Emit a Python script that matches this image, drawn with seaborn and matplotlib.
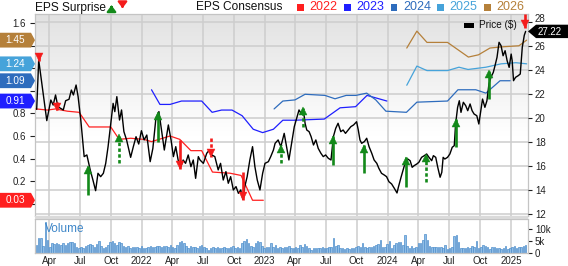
import numpy as np
import pandas as pd
import matplotlib
matplotlib.use("Agg")
import matplotlib.pyplot as plt
import matplotlib.transforms as mtransforms
from matplotlib.patches import Polygon, Rectangle, FancyArrowPatch
import seaborn as sns

# ---------------- data ----------------
price_dates = [
    '2021-02-23','2021-03-01','2021-03-25','2021-04-06','2021-04-13','2021-04-20','2021-04-27','2021-05-05',
    '2021-05-13','2021-05-20','2021-05-30','2021-06-06','2021-06-12','2021-06-20','2021-06-26','2021-07-04',
    '2021-07-14','2021-07-22','2021-08-01','2021-08-09','2021-08-17','2021-08-24','2021-09-01','2021-09-09',
    '2021-09-16','2021-09-23','2021-10-01','2021-10-08','2021-10-13','2021-10-19','2021-10-27','2021-11-02',
    '2021-11-09','2021-11-17','2021-11-29','2021-12-07','2021-12-15','2021-12-23','2021-12-31','2022-01-08',
    '2022-01-16','2022-01-26','2022-02-03','2022-02-12','2022-02-21','2022-03-09','2022-03-21','2022-03-29',
    '2022-04-05','2022-04-12','2022-04-19','2022-04-27','2022-05-04','2022-05-11','2022-05-19','2022-05-27',
    '2022-06-03','2022-06-10','2022-06-18','2022-06-23','2022-07-03','2022-07-13','2022-07-21','2022-07-28',
    '2022-08-06','2022-08-16','2022-08-23','2022-08-31','2022-09-08','2022-09-15','2022-09-22','2022-09-30',
    '2022-10-08','2022-10-15','2022-10-22','2022-10-28','2022-11-03','2022-11-10','2022-11-18','2022-11-26',
    '2022-12-03','2022-12-10','2022-12-18','2022-12-26','2023-01-02','2023-01-12','2023-01-19','2023-01-27',
    '2023-02-01','2023-02-10','2023-02-18','2023-02-28','2023-03-07','2023-03-14','2023-03-22','2023-03-30',
    '2023-04-06','2023-04-13','2023-04-19','2023-04-26','2023-05-01','2023-05-06','2023-05-13','2023-05-19',
    '2023-05-26','2023-06-02','2023-06-09','2023-06-17','2023-06-24','2023-07-01','2023-07-09','2023-07-17',
    '2023-07-24','2023-07-31','2023-08-07','2023-08-15','2023-08-22','2023-08-29','2023-09-06','2023-09-14',
    '2023-09-22','2023-10-01','2023-10-06','2023-10-11','2023-10-16','2023-10-24','2023-10-31','2023-11-07',
    '2023-11-15','2023-11-22','2023-11-30','2023-12-06','2023-12-14','2023-12-22','2023-12-29','2024-01-05',
    '2024-01-13','2024-01-21','2024-01-29','2024-02-02','2024-02-10','2024-02-17','2024-02-24','2024-03-01',
    '2024-03-08','2024-03-14','2024-03-20','2024-03-28','2024-04-03','2024-04-11','2024-04-19','2024-04-26',
    '2024-05-03','2024-05-11','2024-05-16','2024-05-23','2024-05-29','2024-06-05','2024-06-10','2024-06-14',
    '2024-06-19','2024-06-27','2024-07-04','2024-07-11','2024-07-17','2024-07-21','2024-07-27','2024-08-01',
    '2024-08-06','2024-08-13','2024-08-20','2024-08-26','2024-09-02','2024-09-08','2024-09-14','2024-09-22',
    '2024-09-28','2024-10-04','2024-10-09','2024-10-16','2024-10-22','2024-10-28','2024-11-03','2024-11-10',
    '2024-11-15','2024-11-21','2024-11-27','2024-12-03','2024-12-09','2024-12-15','2024-12-21','2024-12-27',
    '2025-01-02','2025-01-05','2025-01-09','2025-01-15','2025-01-23','2025-01-29','2025-02-04','2025-02-10',
    '2025-02-14']
price_vals = [
    20.72,24.83,19.78,21.50,21.08,21.92,20.94,20.81,20.67,21.44,21.56,22.33,21.92,22.75,21.78,19.83,
    16.78,16.92,15.67,14.83,13.94,15.39,15.11,15.39,16.22,17.61,19.56,21.22,20.53,21.78,19.83,20.67,
    18.86,18.17,16.72,17.61,18.44,17.83,18.94,18.17,18.58,16.36,17.47,19.97,20.53,17.33,19.42,18.17,
    16.78,17.61,16.50,15.94,16.50,16.22,16.92,15.94,16.50,14.97,16.78,16.50,16.22,17.06,17.33,16.92,
    16.78,15.67,16.22,14.83,15.53,14.56,15.11,14.00,14.28,13.72,14.00,13.22,14.28,15.11,16.50,17.61,
    15.94,14.83,14.00,15.39,16.22,16.36,16.78,17.33,17.89,18.17,17.61,18.72,17.61,16.50,17.89,19.28,
    19.97,20.67,20.39,20.67,19.56,19.00,18.86,18.44,17.75,18.17,17.47,17.06,16.78,16.92,16.64,16.50,
    18.44,19.14,19.56,18.86,19.00,18.72,19.00,19.28,19.42,19.69,19.00,18.17,17.89,18.03,18.31,17.61,
    17.06,16.50,16.22,15.81,15.39,15.25,15.11,14.69,14.50,14.14,13.75,14.22,15.06,15.75,16.44,16.58,
    16.44,15.89,16.03,16.17,16.31,16.72,16.86,17.00,16.72,16.44,16.86,16.72,15.89,15.06,15.47,16.72,
    16.58,16.72,17.00,17.56,17.69,19.50,20.89,21.44,20.47,21.31,21.03,20.61,21.17,20.61,20.33,20.19,
    19.50,20.61,21.58,20.89,21.44,22.83,23.39,23.81,24.36,25.06,26.31,26.03,25.19,25.61,24.78,24.22,
    25.33,24.78,23.11,23.39,23.53,23.67,25.89,26.90,27.22]

c2022_dates = ['2021-02-21','2021-03-27','2021-04-20','2021-05-25','2021-06-29','2021-07-29','2021-10-01',
               '2021-10-26','2021-11-29','2022-01-07','2022-01-30','2022-03-26','2022-04-24','2022-05-27',
               '2022-06-28','2022-07-30','2022-09-20','2022-10-23','2022-11-26','2022-12-28']
c2022_vals = [0.84,0.83,0.84,0.82,0.81,0.68,0.68,0.57,0.58,0.57,0.55,0.60,0.57,0.47,0.47,0.28,0.27,0.25,0.03,0.03]

c2023_dates = ['2022-01-30','2022-02-24','2022-03-26','2022-04-29','2022-06-28','2022-07-29','2022-08-26',
               '2022-09-26','2022-10-26','2022-11-28','2022-12-26','2023-01-27','2023-02-24','2023-04-01',
               '2023-06-27','2023-08-13','2023-09-28','2023-11-01','2023-12-30']
c2023_vals = [1.01,0.88,0.88,0.91,0.91,0.81,0.83,0.83,0.78,0.66,0.63,0.66,0.74,0.74,0.75,0.85,0.86,0.96,0.91]

c2024_dates = ['2023-01-29','2023-02-24','2023-04-01','2023-05-01','2023-06-29','2023-07-29','2023-08-31',
               '2023-09-29','2023-10-31','2023-11-27','2023-12-27','2024-02-26','2024-03-28','2024-06-27',
               '2024-07-28','2024-09-19','2024-10-19','2024-11-30','2024-12-30']
c2024_vals = [0.84,0.91,0.92,0.97,0.96,0.93,0.96,0.96,0.98,0.92,0.82,0.81,0.90,0.91,1.01,1.01,0.98,1.09,1.09]

c2025_dates = ['2024-02-27','2024-03-28','2024-04-27','2024-06-27','2024-07-31','2024-08-27','2024-10-19',
               '2024-12-03','2025-01-16','2025-02-17']
c2025_vals = [1.05,1.22,1.18,1.18,1.21,1.19,1.21,1.24,1.25,1.24]

c2026_dates = ['2024-02-27','2024-03-28','2024-04-27','2024-06-27','2024-08-28','2024-09-27','2024-10-31',
               '2024-12-03','2025-01-25','2025-02-17']
c2026_vals = [1.38,1.53,1.43,1.43,1.30,1.32,1.38,1.39,1.40,1.45]

years = ['2022', '2023', '2024', '2025', '2026']
year_colors = ['#ff1f1f', '#1f1fff', '#2e6cbd', '#46a3da', '#b5803a']
tag_values = [0.03, 0.91, 1.09, 1.24, 1.45]

surprise_dates = ['2021-03-02','2021-04-25','2021-07-24','2021-10-25','2022-02-19','2022-04-24','2022-07-26',
                  '2022-10-28','2023-02-18','2023-04-26','2023-07-24','2023-10-22','2024-02-24','2024-04-23',
                  '2024-07-21','2024-10-28','2025-02-12']
surprise_up = [False,False,True,True,True,False,False,False,True,True,True,True,True,True,True,True,False]
surprise_dashed = [False,False,False,True,False,False,True,False,True,True,False,False,False,True,False,False,False]
surprise_from = [25.33,21.36,13.58,16.28,18.03,18.17,18.31,15.53,16.22,19.25,16.08,15.39,14.28,14.64,17.61,21.58,28.67]
surprise_to = [24.75,20.65,15.96,18.65,20.50,15.75,16.78,13.17,17.75,20.85,18.46,17.75,16.72,17.00,19.92,23.94,27.54]

volume_k = [
    3.5,6.2,6.2,3.0,13.0,5.3,2.5,4.0,3.7,4.0,3.7,3.3,4.0,3.4,4.0,4.6,4.6,4.0,2.7,2.0,2.5,2.0,3.0,3.4,
    3.8,3.4,2.7,3.8,5.2,3.0,2.0,2.7,3.4,4.4,5.2,4.1,3.4,4.4,4.1,3.0,2.7,3.0,2.0,2.7,2.5,2.7,2.0,3.0,
    2.0,2.0,2.7,3.0,2.5,2.7,3.0,3.0,2.7,3.0,3.0,2.7,3.4,2.7,2.0,3.4,4.4,5.2,4.1,3.0,2.0,3.0,2.5,2.7,
    2.0,3.0,3.4,2.7,2.0,1.4,2.0,2.5,2.0,2.5,2.0,2.0,2.5,2.0,2.0,2.5,3.0,2.0,2.7,2.0,4.1,4.8,5.8,4.1,
    3.0,2.7,4.1,4.8,4.4,3.0,2.0,2.7,2.5,4.1,2.7,3.4,2.0,2.5,2.0,2.7,
    2.7,3.0,2.0,2.0,2.7,2.0,3.4,2.7,3.8,3.0,2.0,1.4,2.0,2.0,2.0,2.0,2.5,2.0,2.0,2.7,2.5,6.2,3.0,3.4,
    2.0,2.0,1.6,2.0,1.6,2.0,2.0,2.5,3.0,2.7,4.1,2.7,2.0,2.5,2.7,3.0,3.4,3.8,5.5,2.7,2.7,3.8,4.8,2.0,
    3.4,4.1,4.4,4.6,3.4,7.5,3.0,2.0,3.0,2.0,2.7,4.1,4.1,5.5,8.0,5.5,3.0,2.5,2.5,2.7,2.5,2.7,2.0,3.4,
    1.6,2.0,2.7,7.1,7.5,4.4,2.0,2.0,2.0,2.7,2.0,3.0,2.5,5.2,2.0,2.7,3.4,3.0,2.7,1.6,2.5,2.7,2.0,2.0,
    1.6,2.0,3.0,1.6,2.0,2.7,3.0,2.0,2.5,2.7,3.0,3.4]
volume_first, volume_last = '2021-02-22', '2025-02-14'

tick_dates = pd.date_range('2021-04-01', '2025-01-01', freq='QS')
tick_labels = [str(d.year) if d.month == 1 else d.strftime('%b') for d in tick_dates]
price_ticks = list(range(12, 29, 2))
eps_ticks = [0.0, 0.2, 0.4, 0.6, 0.8, 1.0, 1.2, 1.4, 1.6]
eps_tick_labels = ['', '0.2', '0.4', '0.6', '0.8', '', '', '', '1.6']   # others sit under the value tags
x_start, x_end = '2021-02-18', '2025-02-21'

# ---------------- styling ----------------
sns.set_style("white")
plt.rcParams['font.family'] = ['Liberation Sans', 'DejaVu Sans']

W, H = 568, 266
fig = plt.figure(figsize=(W / 100, H / 100), dpi=100)
fig.patch.set_facecolor('white')

def fx(x):
    return x / W

def fy(y):
    return 1 - y / H

L, R, T, B = 35, 528, 14, 216
VT, VB = 219, 253
GRID = '#cdcdcd'
GREEN, RED = '#13891a', '#f41c1c'
TXT = '#222222'

# price <-> eps alignment of the two y axes
P_LO, P_HI = 11.83, 28.67
def eps_of(p):
    return (p - 12.86) / 9.4

rect_main = [fx(L), fy(B), fx(R - L), (B - T) / H]
ax_bg = fig.add_axes(rect_main, zorder=-2)
t = np.linspace(0, 1, 300)
g = 0.885 + (1 - 0.885) * np.clip(t / 0.6, 0, 1)
img = np.dstack([g, g, g]).reshape(300, 1, 3)
ax_bg.imshow(img, aspect='auto', extent=[0, 1, 0, 1], interpolation='bilinear')
ax_bg.set_xlim(0, 1); ax_bg.set_ylim(0, 1)
ax_bg.axis('off')

ax_e = fig.add_axes(rect_main, zorder=0)
ax_e.patch.set_visible(False)
ax_v = fig.add_axes([fx(L), fy(VB), fx(R - L), (VB - VT) / H], sharex=ax_e, zorder=0)
ax_p = ax_e.twinx()
ax_p.set_zorder(1)
ax_p.patch.set_visible(False)

# consensus lines
for d, v, c in zip([c2022_dates, c2023_dates, c2024_dates, c2025_dates, c2026_dates],
                   [c2022_vals, c2023_vals, c2024_vals, c2025_vals, c2026_vals], year_colors):
    sns.lineplot(x=pd.to_datetime(d), y=v, ax=ax_e, color=c, lw=0.9, zorder=3)

# price line
sns.lineplot(x=pd.to_datetime(price_dates), y=price_vals, ax=ax_p, color='black', lw=1.0, zorder=3)

# EPS surprise arrows
for d, up, dashed, y0, y1 in zip(surprise_dates, surprise_up, surprise_dashed, surprise_from, surprise_to):
    dt = pd.Timestamp(d)
    col = GREEN if up else RED
    ls = (0, (1.3, 0.9)) if dashed else '-'
    ax_p.plot([dt, dt], [y0, y1], color=col, lw=1.9, ls=ls, solid_capstyle='butt',
              zorder=5, clip_on=False)
    off = mtransforms.offset_copy(ax_p.transData, fig=fig, x=0, y=(-2.6 if up else 2.6), units='points')
    ax_p.plot([dt], [y1], marker='^' if up else 'v', ms=5.2, color=col, mec=col, mew=0.3,
              transform=off, zorder=6, clip_on=False, ls='none')

# volume
vol_dates = pd.date_range(volume_first, volume_last, periods=len(volume_k))
ax_v.bar(vol_dates, volume_k, width=4.6, color='#8fbde6', edgecolor='#4f8fcc', linewidth=0.5, zorder=2)

# limits
ax_e.set_xlim(pd.Timestamp(x_start), pd.Timestamp(x_end))
ax_p.set_ylim(P_LO, P_HI)
ax_e.set_ylim(eps_of(P_LO), eps_of(P_HI))
ax_v.set_ylim(0, 14.17)

# grid
ax_e.set_xticks(tick_dates)
ax_e.grid(axis='x', color=GRID, lw=1.1, zorder=0)
ax_e.grid(axis='y', visible=False)
ax_p.grid(False)
for p in price_ticks:
    ax_e.axhline(eps_of(p), color=GRID, lw=1.1, zorder=0)
ax_v.grid(axis='x', color=GRID, lw=1.1, zorder=0)
ax_v.grid(axis='y', visible=False)
ax_v.set_axisbelow(True)

# ticks
ax_v.set_xticks(tick_dates)
ax_v.set_xticklabels(tick_labels)
ax_v.tick_params(axis='x', labelsize=7, colors=TXT, length=0, pad=2.5)
ax_e.tick_params(axis='x', bottom=False, labelbottom=False)

ax_e.set_yticks(eps_ticks)
ax_e.set_yticklabels(eps_tick_labels)
ax_e.tick_params(axis='y', left=True, labelsize=7, colors=TXT, length=3.5, width=0.8, pad=3)

# right price axis: the top label (28) sits a little higher, half hidden by the price tag
ax_p.set_yticks(price_ticks)
ax_p.set_yticklabels([str(v) for v in price_ticks[:-1]] + [''])
ax_p.tick_params(axis='y', right=True, labelsize=7, colors=TXT, length=3, width=0.8, pad=2)
top_tr = mtransforms.offset_copy(ax_p.get_yaxis_transform(), fig=fig, x=5, y=2.2, units='points')
ax_p.text(1.0, price_ticks[-1], str(price_ticks[-1]), transform=top_tr, fontsize=7, color=TXT,
          ha='left', va='center', clip_on=False)

ax_v.yaxis.tick_right()
ax_v.set_yticks([0, 5, 10])
ax_v.set_yticklabels(['0', '5k', '10k'])
ax_v.tick_params(axis='y', right=True, labelsize=7, colors=TXT, length=3, width=0.8, pad=2)

for a in (ax_e, ax_p, ax_v):
    a.set_xlabel('')
    a.set_ylabel('')
for a in (ax_e, ax_v):
    for s in a.spines.values():
        s.set_color('#c4c4c4')
        s.set_linewidth(0.9)
for s in ax_p.spines.values():
    s.set_visible(False)

# separator band between panels
fig.add_artist(Rectangle((fx(L), fy(VT)), fx(R - L), (VT - B) / H, transform=fig.transFigure,
                         facecolor='#dadada', edgecolor='none', zorder=2))

ax_v.text(0.02, 0.70, 'Volume', transform=ax_v.transAxes, fontsize=8.5, color='#3d86c8',
          ha='left', va='center', zorder=4)

# ---------------- header legend ----------------
fig.text(fx(35), fy(7.5), 'EPS Surprise', fontsize=8.6, color='#111111', ha='left', va='center')
fig.add_artist(FancyArrowPatch((fx(111.5), fy(11)), (fx(111.5), fy(2.5)), transform=fig.transFigure,
                               arrowstyle='-|>,head_length=0.4,head_width=0.3', mutation_scale=9,
                               lw=1.6, color=GREEN))
fig.add_artist(FancyArrowPatch((fx(122.5), fy(2.5)), (fx(122.5), fy(11)), transform=fig.transFigure,
                               arrowstyle='-|>,head_length=0.4,head_width=0.3', mutation_scale=9,
                               lw=1.6, color=RED))
fig.text(fx(196.5), fy(7.5), 'EPS Consensus', fontsize=8.6, color='#111111', ha='left', va='center')
for xs, yr, c in zip([297, 344, 390.5, 437, 484], years, year_colors):
    fig.add_artist(Rectangle((fx(xs), fy(10.5)), fx(6.5), 6.5 / H, transform=fig.transFigure,
                             facecolor=c, edgecolor='none'))
    fig.text(fx(xs + 12.5), fy(7.5), yr, fontsize=9, color=c, ha='left', va='center')

# price legend
fig.add_artist(Rectangle((fx(464), fy(27.5)), fx(9.5), 4.5 / H, transform=fig.transFigure,
                         facecolor='black', edgecolor='none', zorder=4))
fig.text(fx(479), fy(25.5), 'Price ($)', fontsize=7.2, color='#111111', ha='left', va='center', zorder=4)

# ---------------- value tags ----------------
def y_px(ax, v):
    return H - ax.transData.transform((0, v))[1]

last_price = price_vals[-1]
yc = y_px(ax_p, last_price)
fig.add_artist(Polygon([(fx(528), fy(yc)), (fx(536), fy(yc - 6.7)), (fx(568), fy(yc - 6.7)),
                        (fx(568), fy(yc + 6.7)), (fx(536), fy(yc + 6.7))],
                       closed=True, transform=fig.transFigure, facecolor='black', edgecolor='none', zorder=5))
fig.text(fx(550), fy(yc + 0.5), f'{last_price:.2f}', fontsize=7.0, color='white', ha='center', va='center',
         zorder=6)

for v, c in zip(tag_values, year_colors):
    yc = y_px(ax_e, v)
    fig.add_artist(Polygon([(fx(0), fy(yc - 7.4)), (fx(31), fy(yc - 7.4)), (fx(35), fy(yc)),
                            (fx(31), fy(yc + 7.4)), (fx(0), fy(yc + 7.4))],
                           closed=True, transform=fig.transFigure, facecolor=c, edgecolor='none', zorder=5))
    fig.text(fx(15.5), fy(yc), f'{v:.2f}', fontsize=7.2, color='white', ha='center', va='center', zorder=6)

fig.savefig('out.png', dpi=100)
